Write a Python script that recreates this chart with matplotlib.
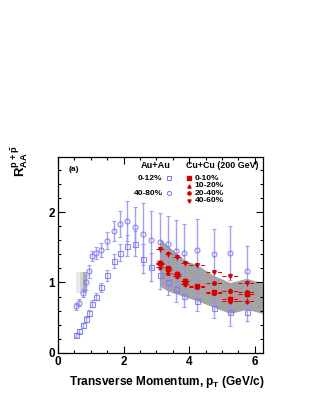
import matplotlib.pyplot as plt
from matplotlib.ticker import MultipleLocator
import numpy as np

plt.rcParams['font.family'] = ['Liberation Sans', 'DejaVu Sans']
plt.rcParams['mathtext.fontset'] = 'custom'
plt.rcParams['mathtext.bf'] = 'Liberation Sans:bold'
plt.rcParams['mathtext.rm'] = 'Liberation Sans:bold'

# Au+Au 0-12% (open squares) and 40-80% (open circles)
au_pt = [0.55, 0.65, 0.75, 0.85, 0.95, 1.05, 1.15, 1.3, 1.5, 1.7, 1.9, 2.1,
         2.35, 2.6, 2.85, 3.1, 3.35, 3.6, 3.85, 4.25, 4.75, 5.25, 5.75]
au_c_raa = [0.25, 0.31, 0.39, 0.48, 0.57, 0.70, 0.80, 0.93, 1.10, 1.30, 1.42, 1.52,
            1.55, 1.34, 1.22, 1.11, 1.00, 0.91, 0.81, 0.74, 0.64, 0.58, 0.58]
au_c_err = [0.03, 0.03, 0.03, 0.04, 0.04, 0.05, 0.05, 0.06, 0.08, 0.10, 0.12, 0.15,
            0.18, 0.20, 0.20, 0.20, 0.18, 0.18, 0.16, 0.15, 0.15, 0.20, 0.12]
au_p_raa = [0.66, 0.71, 0.85, 1.00, 1.16, 1.38, 1.42, 1.46, 1.59, 1.73, 1.83, 1.87,
            1.79, 1.69, 1.61, 1.58, 1.55, 1.45, 1.42, 1.46, 1.41, 1.42, 1.16]
au_p_err = [0.05, 0.05, 0.06, 0.10, 0.09, 0.07, 0.09, 0.10, 0.12, 0.14, 0.19, 0.28,
            0.28, 0.44, 0.41, 0.40, 0.39, 0.43, 0.41, 0.44, 0.35, 0.38, 0.36]

# Cu+Cu (200 GeV)
cu_pt = [3.12, 3.37, 3.62, 3.87, 4.25, 4.75, 5.25, 5.75]
cu_xerr = [0.12, 0.12, 0.12, 0.12, 0.25, 0.25, 0.25, 0.25]
cu_0_10 = [1.28, 1.20, 1.12, 1.02, 0.95, 0.86, 0.77, 0.83]
cu_10_20 = [1.22, 1.14, 1.09, 0.98, 0.94, 0.85, 0.74, 0.74]
cu_20_40 = [1.26, 1.18, 1.12, 1.02, 0.95, 0.99, 0.88, 0.86]
cu_40_60 = [1.47, 1.40, 1.36, 1.28, 1.25, 1.15, 1.09, 0.99]
cu_err = [0.04, 0.04, 0.04, 0.04, 0.03, 0.03, 0.04, 0.04]

# gray theory band
band_pt = [3.1, 3.35, 3.6, 3.85, 4.25, 4.75, 5.25, 5.75, 6.25]
band_lo = [0.95, 0.88, 0.84, 0.80, 0.74, 0.65, 0.56, 0.62, 0.56]
band_hi = [1.62, 1.52, 1.42, 1.32, 1.25, 1.10, 1.00, 1.06, 0.99]

# normalisation boxes near pT~0.7
norm_x0 = [0.55, 0.66, 0.76]
norm_shade = ['#e8e8e8', '#d2d2d2', '#adadad']

blue = '#7878f4'
blue_bar = '#9292f6'
red = '#d40000'

fig = plt.figure(figsize=(3.16, 4.09), dpi=100)
ax = fig.add_axes([0.1835, 0.137, 0.6485, 0.479])

for x0, c in zip(norm_x0, norm_shade):
    ax.fill_between([x0, 0.9], 0.85, 1.15, color=c, lw=0, zorder=1)

ax.fill_between(band_pt, band_lo, band_hi, color='#a3a3a3', lw=0, zorder=1)

ax.errorbar(au_pt, au_c_raa, yerr=au_c_err, fmt='s', ms=3.6, mfc='none',
            mec=blue, mew=0.8, ecolor=blue_bar, elinewidth=1.0, capsize=1.6,
            alpha=0.85, zorder=3)
ax.errorbar(au_pt, au_p_raa, yerr=au_p_err, fmt='o', ms=3.6, mfc='none',
            mec=blue, mew=0.8, ecolor=blue_bar, elinewidth=1.0, capsize=1.6,
            alpha=0.85, zorder=3)

# systematic boxes for 0-10%
ax.bar(cu_pt, [0.07] * len(cu_pt), width=[2 * e for e in cu_xerr],
       bottom=[v - 0.035 for v in cu_0_10], color='#f08080', alpha=0.4,
       lw=0, zorder=2)

for vals, m, ms in [(cu_10_20, '^', 2.3), (cu_20_40, 'o', 2.6),
                    (cu_40_60, 'v', 2.6), (cu_0_10, 's', 3.4)]:
    eb = ax.errorbar(cu_pt, vals, xerr=cu_xerr, yerr=cu_err, fmt=m, ms=ms,
                     color=red, mec=red, ecolor=red, elinewidth=0.7,
                     capsize=0, zorder=4)
    eb[2][0].set_linestyle((0, (4, 2)))

ax.set_xlim(0, 6.25)
ax.set_ylim(0, 2.78)
ax.xaxis.set_major_locator(MultipleLocator(2))
ax.xaxis.set_minor_locator(MultipleLocator(0.5))
ax.yaxis.set_major_locator(MultipleLocator(1))
ax.yaxis.set_minor_locator(MultipleLocator(0.2))
ax.tick_params(which='both', direction='in', top=True, right=True, width=0.8)
ax.tick_params(which='major', length=5, labelsize=8.5, pad=2)
ax.tick_params(which='minor', length=2.5)
for lab in ax.get_xticklabels() + ax.get_yticklabels():
    lab.set_fontweight('bold')
for s in ax.spines.values():
    s.set_linewidth(0.9)

# legend drawn by hand
ax.text(0.05, 0.935, '(a)', transform=ax.transAxes, fontsize=6,
        fontweight='bold', va='center')
ax.text(0.476, 0.955, 'Au+Au', transform=ax.transAxes, fontsize=6.6,
        fontweight='bold', ha='center', va='center')
ax.text(0.80, 0.955, 'Cu+Cu (200 GeV)', transform=ax.transAxes, fontsize=6.4,
        fontweight='bold', ha='center', va='center')
ax.text(0.509, 0.891, '0-12%', transform=ax.transAxes, fontsize=6,
        fontweight='bold', ha='right', va='center')
ax.text(0.514, 0.815, '40-80%', transform=ax.transAxes, fontsize=6,
        fontweight='bold', ha='right', va='center')
ax.plot([0.541], [0.891], 's', ms=3, mfc='none', mec=blue, mew=0.7,
        transform=ax.transAxes)
ax.plot([0.543], [0.815], 'o', ms=3, mfc='none', mec=blue, mew=0.7,
        transform=ax.transAxes)
red_labels = ['0-10%', '10-20%', '20-40%', '40-60%']
red_marks = ['s', '^', 'o', 'v']
red_y = [0.891, 0.854, 0.815, 0.776]
for lab, m, yy in zip(red_labels, red_marks, red_y):
    ax.plot([0.64], [yy], m, ms=2.3, color=red, transform=ax.transAxes)
    ax.text(0.668, yy, lab, transform=ax.transAxes, fontsize=6,
            fontweight='bold', va='center')

fig.text(0.838, 0.067, r'Transverse Momentum, p$_\mathbf{T}$ (GeV/c)',
         fontsize=8.6, fontweight='bold', ha='right', va='center')
fig.text(0.066, 0.567, r'$\mathbf{R^{p+\bar{p}}_{AA}}$', fontsize=9.5,
         rotation=90, ha='center', va='bottom')

fig.savefig('out.png', dpi=100)
